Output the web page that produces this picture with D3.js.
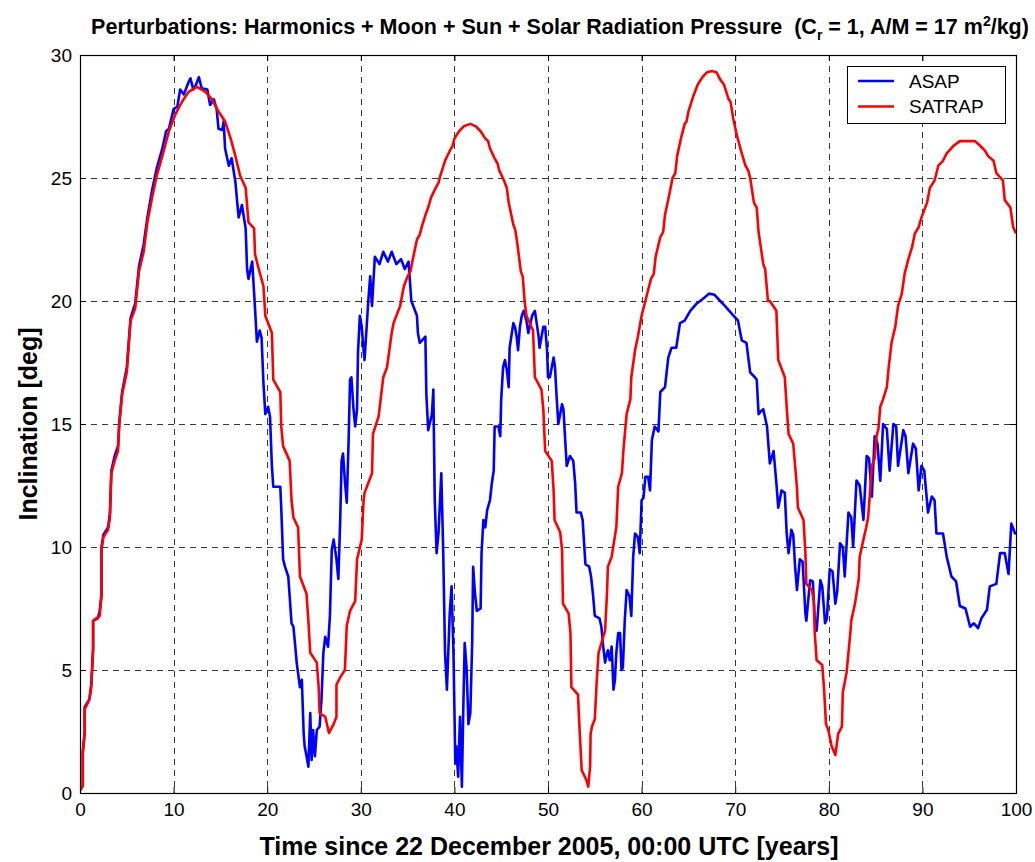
<!DOCTYPE html>
<html>
<head>
<meta charset="utf-8">
<script src="https://cdn.jsdelivr.net/npm/d3@7"></script>
<style>
  html, body { margin: 0; padding: 0; background: #fff; }
  svg text { font-family: "Liberation Sans", Arial, Helvetica, sans-serif; fill: #000; }
</style>
</head>
<body>
<svg id="chart" width="1035" height="862"></svg>
<script>
// Inclination history over 100 years for two propagators
const xTicks = [0, 10, 20, 30, 40, 50, 60, 70, 80, 90, 100];
const yTicks = [0, 5, 10, 15, 20, 25, 30];
const seriesNames = ["ASAP", "SATRAP"];

// ASAP: [years, inclination deg]
const asapData = [
  [0,0.1],[0.3,0.3],[0.3,1.7],[0.5,2.5],[0.5,3.5],[1.0,3.8],[1.2,4.4],[1.4,5.9],[1.4,7.0],[1.9,7.1],
  [2.1,7.4],[2.3,8.1],[2.3,10.0],[2.5,10.5],[3.0,10.8],[3.2,11.4],[3.35,13.1],[3.7,13.7],[4.06,14.1],[4.2,15.1],
  [4.5,16.3],[5.0,17.3],[5.4,19.3],[5.9,19.9],[6.3,21.4],[6.8,22.3],[7.2,23.4],[7.7,24.5],[8.2,25.4],[8.8,26.2],
  [9.2,26.9],[9.5,27.0],[10.0,27.8],[10.4,27.9],[10.7,28.6],[11.1,28.4],[11.6,28.9],[11.8,29.05],[12.1,28.6],[12.4,28.8],
  [12.7,29.1],[13.0,28.65],[13.6,28.6],[13.9,27.97],[14.3,28.2],[14.6,27.8],[14.8,27.0],[15.2,26.95],[15.35,27.3],[15.5,26.2],
  [15.9,25.5],[16.2,25.8],[16.6,24.85],[16.8,24.0],[16.95,23.4],[17.3,23.9],[17.7,22.95],[17.85,21.3],[18.0,20.9],[18.4,21.6],
  [18.7,19.7],[18.9,18.35],[19.2,18.8],[19.4,18.5],[19.6,16.65],[19.8,15.4],[20.1,15.7],[20.3,15.3],[20.5,13.3],[20.65,12.45],
  [21.4,12.45],[21.5,11.6],[21.7,9.5],[21.9,9.2],[22.25,8.8],[22.4,8.0],[22.6,6.9],[22.8,6.76],[23.0,5.95],[23.15,5.3],
  [23.5,4.3],[23.7,4.6],[23.9,2.4],[24.0,1.9],[24.2,1.5],[24.4,1.07],[24.6,3.25],[24.75,1.34],[24.9,2.56],[25.1,1.5],
  [25.3,2.56],[25.6,2.7],[25.8,3.8],[26.0,5.7],[26.2,6.35],[26.5,5.95],[26.7,7.2],[26.9,9.9],[27.1,10.3],[27.4,9.5],
  [27.6,8.7],[27.8,11.1],[27.95,13.5],[28.1,13.8],[28.3,12.7],[28.5,11.8],[28.7,14.35],[28.85,16.8],[29.0,16.9],[29.2,15.7],
  [29.4,14.9],[29.6,15.6],[29.7,17.9],[29.9,19.4],[30.1,18.95],[30.3,18.0],[30.4,17.6],[30.6,18.8],[30.8,20.0],[31.0,21.0],
  [31.2,19.8],[31.5,21.8],[32.0,21.5],[32.4,22.0],[32.9,21.6],[33.3,22.0],[33.8,21.5],[34.3,21.7],[34.7,21.3],[35.1,21.6],
  [35.4,20.0],[36.0,19.4],[36.1,18.7],[36.3,18.3],[36.9,18.55],[37.0,16.25],[37.2,14.75],[37.6,15.4],[37.75,16.4],[37.9,11.9],
  [38.1,9.75],[38.3,10.55],[38.6,13.0],[38.8,9.9],[39.0,5.7],[39.2,4.2],[39.5,7.3],[39.7,8.4],[39.9,5.7],[40.1,1.2],
  [40.2,1.9],[40.4,0.66],[40.6,3.1],[40.8,0.26],[40.95,3.4],[41.1,6.1],[41.3,5.1],[41.5,2.8],[41.7,3.25],[41.9,6.1],
  [42.0,9.2],[42.2,8.1],[42.4,7.4],[42.8,7.5],[42.9,9.75],[43.1,11.1],[43.3,10.8],[43.5,11.5],[43.8,11.9],[44.0,12.6],
  [44.2,13.1],[44.3,14.9],[44.7,14.9],[44.9,14.5],[45.0,16.0],[45.2,17.3],[45.4,17.6],[45.6,17.2],[45.8,16.5],[45.9,18.1],
  [46.3,19.1],[46.5,18.9],[46.65,18.55],[46.8,18.0],[47.0,18.95],[47.2,19.4],[47.4,19.6],[47.7,19.2],[47.9,18.7],[48.3,19.4],
  [48.6,19.6],[49.0,18.55],[49.1,18.1],[49.5,18.95],[49.7,18.95],[49.9,18.0],[50.0,16.9],[50.2,16.9],[50.6,17.7],[50.75,17.3],
  [50.9,16.25],[51.1,15.0],[51.5,15.8],[51.65,15.6],[51.8,14.6],[52.0,13.3],[52.35,13.7],[52.7,13.5],[52.9,12.6],[53.05,11.4],
  [53.5,11.4],[53.7,11.1],[54.0,9.3],[54.4,9.2],[54.6,8.8],[54.8,8.1],[55.0,7.2],[55.5,7.1],[55.7,6.76],[55.9,5.95],
  [56.1,5.3],[56.25,5.6],[56.4,5.8],[56.6,5.4],[56.8,5.95],[57.0,4.2],[57.15,4.6],[57.3,5.7],[57.5,6.5],[57.7,6.5],
  [57.85,5.0],[58.0,5.1],[58.2,7.0],[58.4,8.25],[58.7,8.0],[58.9,7.2],[59.1,9.6],[59.3,10.55],[59.6,10.4],[59.8,9.75],
  [60.0,11.9],[60.2,12.0],[60.4,12.85],[60.7,12.85],[60.9,12.3],[61.1,14.35],[61.4,14.9],[61.8,14.7],[62.0,16.3],[62.5,16.5],
  [62.85,17.7],[63.2,18.1],[63.7,18.1],[64.1,19.1],[64.6,19.2],[65.2,19.6],[65.9,19.9],[66.6,20.1],[67.2,20.3],[67.8,20.25],
  [68.4,20.0],[68.9,19.8],[69.6,19.5],[70.3,19.2],[70.7,18.4],[71.2,18.3],[71.6,17.1],[72.1,16.9],[72.3,16.8],[72.5,15.4],
  [72.7,15.5],[73.0,15.6],[73.4,14.9],[73.7,13.4],[74.1,13.9],[74.4,12.6],[74.6,11.6],[74.95,12.3],[75.3,12.2],[75.5,10.55],
  [75.7,9.75],[76.0,10.7],[76.2,10.5],[76.4,9.2],[76.6,8.25],[76.9,9.5],[77.2,9.4],[77.5,7.3],[77.6,7.0],[78.0,8.65],
  [78.3,8.6],[78.5,7.0],[78.7,6.6],[79.1,8.65],[79.3,8.4],[79.6,6.9],[79.8,7.1],[80.1,9.1],[80.4,9.0],[80.7,7.7],
  [80.9,8.2],[81.2,10.15],[81.5,10.0],[81.7,8.8],[82.1,11.4],[82.4,11.2],[82.6,10.0],[82.96,12.7],[83.3,12.5],[83.7,11.1],
  [84.05,13.7],[84.3,13.6],[84.6,12.05],[84.9,14.5],[85.2,14.2],[85.5,12.7],[85.8,15.0],[86.2,14.8],[86.5,13.1],[86.9,15.0],
  [87.2,14.9],[87.4,13.3],[87.96,14.75],[88.2,14.5],[88.5,13.0],[89.0,14.2],[89.3,14.0],[89.6,12.3],[89.9,13.3],[90.2,13.1],
  [90.6,11.4],[91.0,12.05],[91.3,11.9],[91.5,10.55],[92.2,10.55],[92.6,9.6],[93.1,8.8],[93.6,8.6],[94.0,7.6],[94.6,7.5],
  [95.1,6.76],[95.5,6.9],[95.95,6.7],[96.3,7.1],[96.9,7.45],[97.2,8.4],[97.9,8.5],[98.3,9.75],[98.8,9.75],[99.2,8.9],
  [99.5,10.95],[99.9,10.55],[100,10.6]
];

// SATRAP: [years, inclination deg]
const satrapData = [
  [0.0,0.1],[0.3,0.3],[0.3,1.6],[0.5,2.4],[0.5,3.4],[1.0,3.8],[1.2,4.3],[1.4,5.8],[1.4,7.0],[2.1,7.2],
  [2.3,8.0],[2.3,9.9],[2.5,10.4],[3.0,10.7],[3.2,11.2],[3.35,13.0],[3.7,13.5],[4.06,13.9],[4.2,15.0],[4.5,16.2],
  [5.0,17.1],[5.4,19.2],[5.9,19.7],[6.3,21.2],[6.8,22.0],[7.2,23.2],[7.7,24.2],[8.2,25.1],[8.8,25.9],[9.5,26.9],
  [10.2,27.6],[10.9,28.1],[11.6,28.5],[12.5,28.7],[13.4,28.5],[14.1,28.2],[14.8,27.7],[15.5,27.3],[16.1,26.6],[16.6,25.9],
  [17.1,25.1],[17.7,24.6],[18.0,23.2],[18.6,22.95],[18.7,21.9],[19.1,21.3],[19.6,20.6],[19.8,19.4],[20.5,18.7],[20.65,16.8],
  [21.4,16.3],[21.5,14.9],[21.7,14.1],[22.4,13.5],[22.6,11.9],[22.8,11.2],[23.3,10.8],[23.5,8.8],[24.2,8.1],[24.4,7.0],
  [24.6,5.7],[25.3,5.3],[25.5,4.3],[25.6,3.25],[26.2,3.1],[26.6,2.44],[27.1,2.8],[27.4,3.1],[27.4,4.4],[27.8,4.7],
  [28.3,5.0],[28.5,6.8],[28.85,7.4],[29.4,7.8],[29.6,9.5],[30.1,10.3],[30.3,11.9],[30.4,12.2],[31.2,13.0],[31.3,14.6],
  [31.9,15.3],[32.4,16.9],[32.8,17.3],[33.3,18.7],[33.5,19.1],[34.2,19.8],[34.6,20.6],[35.0,21.0],[35.3,21.2],[35.5,21.6],
  [36.0,22.5],[36.3,22.7],[36.5,23.0],[37.0,23.6],[37.2,23.8],[37.5,24.2],[38.0,24.6],[38.3,24.8],[38.5,25.1],[39.0,25.7],
  [39.5,26.1],[39.8,26.3],[40.0,26.6],[40.5,26.9],[41.0,27.1],[41.7,27.2],[42.3,27.1],[42.8,26.9],[43.3,26.6],[43.6,26.5],
  [43.8,26.2],[44.3,25.8],[44.6,25.6],[44.8,25.3],[45.3,24.9],[45.6,24.6],[45.8,24.0],[46.3,23.1],[46.5,22.9],[46.7,22.4],
  [47.1,21.2],[47.3,21.0],[47.5,20.0],[47.7,19.4],[48.4,18.8],[48.6,16.9],[49.3,16.4],[49.5,15.6],[49.7,13.9],[50.4,13.5],
  [50.6,12.3],[50.7,11.1],[51.3,10.6],[51.5,9.9],[51.6,7.7],[52.2,7.3],[52.4,6.5],[52.5,4.3],[53.2,4.0],[53.4,2.4],
  [53.6,0.93],[54.1,0.53],[54.3,0.26],[54.5,1.07],[54.55,2.4],[54.7,2.7],[55.0,3.0],[55.2,4.5],[55.4,5.7],[56.1,6.6],
  [56.3,8.1],[56.4,9.2],[56.8,9.6],[57.3,10.8],[57.5,12.45],[57.9,13.0],[58.05,13.9],[58.4,15.4],[58.8,16.0],[58.9,16.9],
  [59.3,18.0],[59.6,18.55],[60.0,19.4],[60.4,20.0],[61.0,20.9],[61.3,21.1],[61.5,21.8],[62.0,22.6],[62.3,22.8],[62.5,23.5],
  [63.0,24.4],[63.3,25.0],[63.6,25.2],[63.8,25.9],[64.2,26.6],[64.6,27.2],[64.8,27.3],[65.0,27.7],[65.5,28.3],[66.0,28.8],
  [66.5,29.1],[67.0,29.3],[67.5,29.35],[68.0,29.3],[68.4,29.0],[68.8,28.8],[69.3,28.2],[69.5,28.1],[69.8,27.4],[70.2,26.7],
  [70.7,26.0],[71.1,25.5],[71.4,25.3],[71.6,25.0],[72.0,24.0],[72.3,23.8],[72.5,22.8],[73.0,21.5],[73.2,21.3],[73.5,20.0],
  [73.7,20.0],[74.4,19.6],[74.6,17.6],[75.3,16.9],[75.5,15.7],[75.7,14.6],[76.2,14.2],[76.6,12.4],[76.7,11.6],[77.3,11.1],
  [77.5,9.75],[77.6,8.5],[78.2,8.25],[78.4,7.8],[78.5,6.5],[78.7,5.4],[79.3,5.2],[79.5,4.2],[79.7,2.8],[79.95,2.56],
  [80.3,1.9],[80.7,1.54],[81.0,2.4],[81.4,2.7],[81.5,4.1],[81.9,4.9],[82.3,6.5],[82.4,7.0],[82.8,7.7],[83.2,8.7],
  [83.3,9.6],[83.7,10.3],[84.0,10.8],[84.2,11.2],[84.4,12.2],[84.6,13.3],[84.9,13.6],[85.1,14.5],[85.3,14.8],[85.5,15.7],
  [85.8,16.0],[86.2,16.5],[86.4,17.3],[86.7,18.3],[87.1,18.95],[87.4,19.8],[87.8,20.3],[88.1,21.1],[88.5,21.7],[88.9,22.2],
  [89.2,22.75],[89.6,23.0],[89.9,23.4],[90.5,24.0],[90.8,24.6],[91.3,24.9],[91.7,25.5],[92.2,25.7],[92.6,26.0],[93.3,26.3],
  [94.0,26.5],[94.7,26.5],[95.6,26.5],[96.2,26.3],[96.7,26.1],[97.0,25.9],[97.6,25.7],[97.9,25.2],[98.6,24.9],[98.8,24.1],
  [99.4,23.8],[99.7,23.0],[100.0,22.75]
];

const seriesColors = ["#0000ff", "#ff0000"];

const svg = d3.select("#chart");
const plot = { left: 80, right: 1016, top: 55, bottom: 793 };

const x = d3.scaleLinear().domain([0, 100]).range([plot.left, plot.right]);
const y = d3.scaleLinear().domain([0, 30]).range([plot.bottom, plot.top]);

// grid
const grid = svg.append("g")
  .attr("stroke", "#000").attr("stroke-opacity", 0.78)
  .attr("stroke-width", 1).attr("stroke-dasharray", "6,5").attr("fill", "none");
grid.selectAll("line.v").data(xTicks.slice(1, -1)).join("line")
  .attr("class", "v")
  .attr("x1", d => Math.round(x(d)) + 0.5).attr("x2", d => Math.round(x(d)) + 0.5)
  .attr("y1", plot.top).attr("y2", plot.bottom);
grid.selectAll("line.h").data(yTicks.slice(1, -1)).join("line")
  .attr("class", "h")
  .attr("y1", d => Math.round(y(d)) + 0.5).attr("y2", d => Math.round(y(d)) + 0.5)
  .attr("x1", plot.left).attr("x2", plot.right);

// series
const line = d3.line().x(d => x(d[0])).y(d => y(d[1]));
svg.append("clipPath").attr("id", "plotclip").append("rect")
  .attr("x", plot.left).attr("y", plot.top)
  .attr("width", plot.right - plot.left).attr("height", plot.bottom - plot.top);
const series = [asapData, satrapData];
svg.append("g").attr("clip-path", "url(#plotclip)")
  .selectAll("path").data(series).join("path")
  .attr("d", line)
  .attr("fill", "none")
  .attr("stroke", (d, i) => seriesColors[i])
  .attr("stroke-width", 2.6)
  .attr("stroke-linejoin", "round");

// axes
const tickFont = 19;
const axB = svg.append("g").attr("transform", `translate(0,${plot.bottom})`)
  .call(d3.axisBottom(x).tickValues(xTicks).tickSizeInner(-6).tickSizeOuter(0).tickPadding(10));
const axL = svg.append("g").attr("transform", `translate(${plot.left},0)`)
  .call(d3.axisLeft(y).tickValues(yTicks).tickSizeInner(-6).tickSizeOuter(0).tickPadding(8));
const axT = svg.append("g").attr("transform", `translate(0,${plot.top})`)
  .call(d3.axisTop(x).tickValues(xTicks).tickSizeInner(-6).tickSizeOuter(0).tickFormat(""));
const axR = svg.append("g").attr("transform", `translate(${plot.right},0)`)
  .call(d3.axisRight(y).tickValues(yTicks).tickSizeInner(-6).tickSizeOuter(0).tickFormat(""));
[axB, axL, axT, axR].forEach(a => {
  a.select(".domain").remove();
  a.selectAll("line").attr("stroke", "#000");
  a.selectAll("text").attr("font-size", tickFont).attr("font-family", null);
});

// frame
svg.append("rect")
  .attr("x", plot.left + 0.5).attr("y", plot.top + 0.5)
  .attr("width", plot.right - plot.left).attr("height", plot.bottom - plot.top)
  .attr("fill", "none").attr("stroke", "#000").attr("stroke-width", 1.2);

// title
const title = svg.append("text")
  .attr("x", 560).attr("y", 34)
  .attr("text-anchor", "middle")
  .attr("font-size", 21.5).attr("font-weight", "bold");
title.append("tspan").text("Perturbations: Harmonics + Moon + Sun + Solar Radiation Pressure\u00a0\u00a0(C");
title.append("tspan").attr("font-size", 14).attr("dy", 6).text("r");
title.append("tspan").attr("dy", -6).text(" = 1, A/M = 17 m");
title.append("tspan").attr("font-size", 14).attr("dy", -8).text("2");
title.append("tspan").attr("dy", 8).text("/kg)");

// axis labels
svg.append("text")
  .attr("x", (plot.left + plot.right) / 2 + 1).attr("y", 855)
  .attr("text-anchor", "middle")
  .attr("font-size", 25).attr("font-weight", "bold")
  .text("Time since 22 December 2005, 00:00 UTC [years]");
svg.append("text")
  .attr("transform", `translate(37,${(plot.top + plot.bottom) / 2}) rotate(-90)`)
  .attr("text-anchor", "middle")
  .attr("font-size", 25).attr("font-weight", "bold")
  .text("Inclination [deg]");

// legend
const legend = svg.append("g");
legend.append("rect")
  .attr("x", 847.5).attr("y", 66.5).attr("width", 158).attr("height", 57)
  .attr("fill", "#fff").attr("stroke", "#000").attr("stroke-width", 1);
const rows = legend.selectAll("g.row").data(seriesNames).join("g")
  .attr("class", "row")
  .attr("transform", (d, i) => `translate(0,${81 + i * 25.5})`);
rows.append("line")
  .attr("x1", 858).attr("x2", 894).attr("y1", 0).attr("y2", 0)
  .attr("stroke", (d, i) => seriesColors[i]).attr("stroke-width", 2.6);
rows.append("text")
  .attr("x", 909).attr("y", 0).attr("dy", "0.35em")
  .attr("font-size", tickFont)
  .text(d => d);
</script>
</body>
</html>
